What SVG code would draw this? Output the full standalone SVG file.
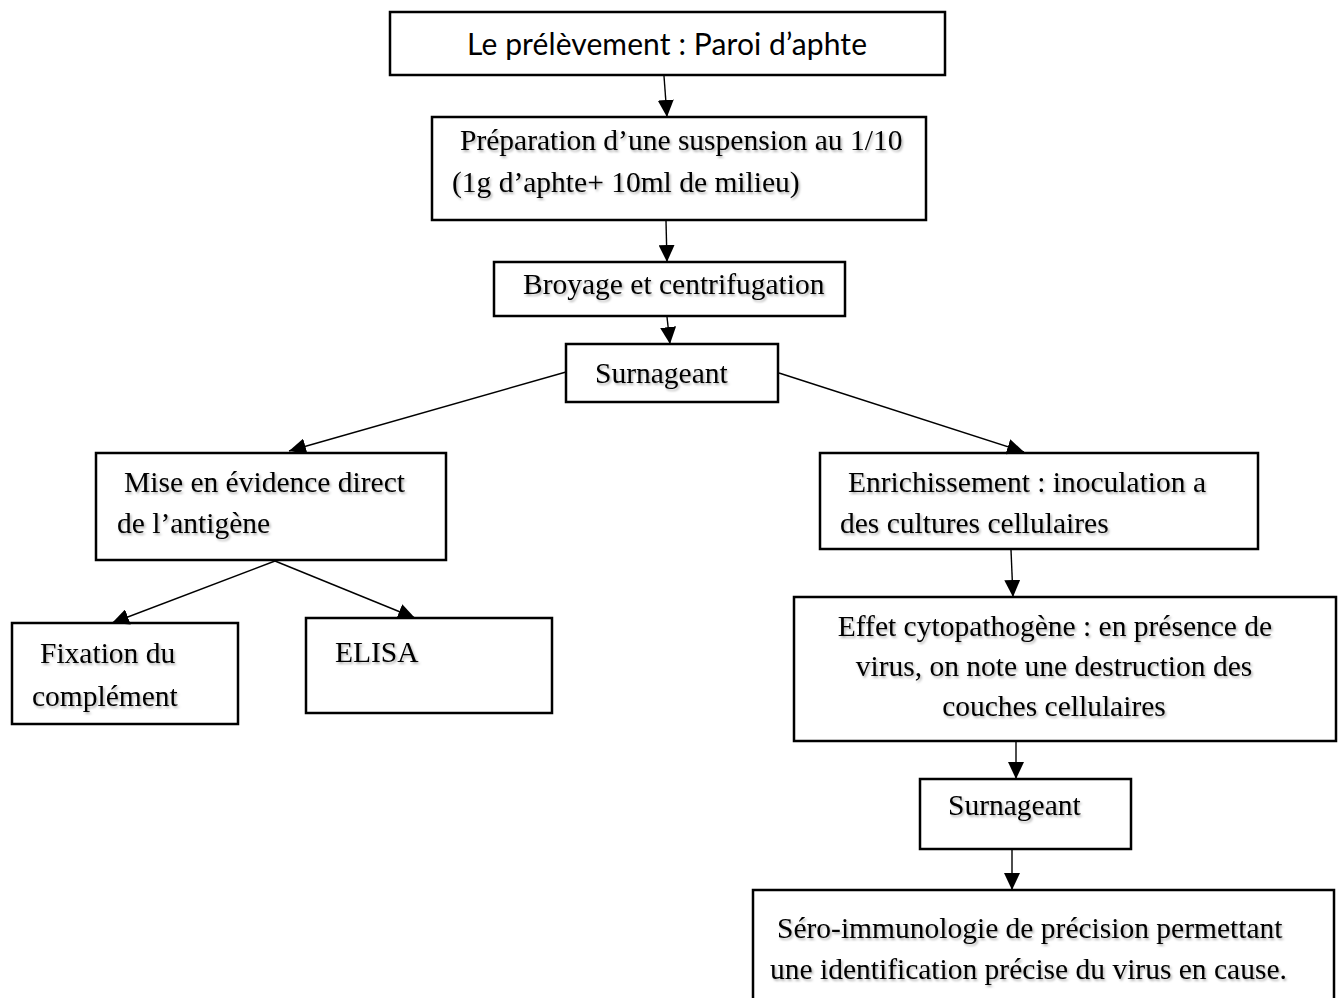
<svg xmlns="http://www.w3.org/2000/svg" width="1339" height="998" viewBox="0 0 1339 998">
<style>
.box{fill:#fff;stroke:#000;stroke-width:2.5}
.t{font-family:"Liberation Serif","Times New Roman",serif;font-size:29.5px;fill:#000;filter:url(#sh)}
.s{font-family:Lato,"Liberation Sans",sans-serif;font-size:30px;fill:#000}
.c{stroke:#000;stroke-width:1.4;fill:none;marker-end:url(#ah)}
</style>
<defs>
<marker id="ah" markerUnits="userSpaceOnUse" markerWidth="18" markerHeight="16" refX="17" refY="8" orient="auto">
<path d="M0,0 L17,8 L0,16 Z" fill="#000"/>
</marker>
<filter id="sh" x="-5%" y="-20%" width="110%" height="150%">
<feDropShadow dx="1.5" dy="2" stdDeviation="1" flood-color="#000" flood-opacity="0.3"/>
</filter>
</defs>
<rect width="1339" height="998" fill="#fff"/>
<g id="n1"><rect class="box" x="390" y="12" width="555" height="63"/><text class="s" x="667" y="55" text-anchor="middle" textLength="400">Le prélèvement : Paroi d’aphte</text></g>
<g id="n2"><rect class="box" x="432" y="117" width="494" height="103"/><text class="t" x="460" y="150">Préparation d’une suspension au 1/10</text><text class="t" x="452" y="192">(1g d’aphte+ 10ml de milieu)</text></g>
<g id="n3"><rect class="box" x="494" y="262" width="351" height="54"/><text class="t" x="523" y="294">Broyage et centrifugation</text></g>
<g id="n4"><rect class="box" x="566" y="344" width="212" height="58"/><text class="t" x="595" y="383">Surnageant</text></g>
<g id="n5"><rect class="box" x="96" y="453" width="350" height="107"/><text class="t" x="124" y="492">Mise en évidence direct</text><text class="t" x="117" y="533">de l’antigène</text></g>
<g id="n6"><rect class="box" x="12" y="623" width="226" height="101"/><text class="t" x="40" y="663">Fixation du</text><text class="t" x="32" y="706">complément</text></g>
<g id="n7"><rect class="box" x="306" y="618" width="246" height="95"/><text class="t" x="335" y="662">ELISA</text></g>
<g id="n8"><rect class="box" x="820" y="453" width="438" height="96"/><text class="t" x="848" y="492">Enrichissement : inoculation a</text><text class="t" x="840" y="533">des cultures cellulaires</text></g>
<g id="n9"><rect class="box" x="794" y="597" width="542" height="144"/><text class="t" x="1055" y="636" text-anchor="middle">Effet cytopathogène : en présence de</text><text class="t" x="1054" y="676" text-anchor="middle">virus, on note une destruction des</text><text class="t" x="1054" y="716" text-anchor="middle">couches cellulaires</text></g>
<g id="n10"><rect class="box" x="920" y="779" width="211" height="70"/><text class="t" x="948" y="815">Surnageant</text></g>
<g id="n11"><rect class="box" x="753" y="890" width="581" height="130"/><text class="t" x="777" y="938">Séro-immunologie de précision permettant</text><text class="t" x="770" y="979">une identification précise du virus en cause.</text></g>
<g id="connectors">
<line class="c" x1="664" y1="76" x2="667" y2="117"/>
<line class="c" x1="666" y1="221" x2="667" y2="262"/>
<line class="c" x1="667" y1="317" x2="670" y2="344"/>
<line class="c" x1="566" y1="372" x2="289" y2="451"/>
<line class="c" x1="779" y1="373" x2="1024" y2="452"/>
<line class="c" x1="275" y1="561" x2="112" y2="623"/>
<line class="c" x1="275" y1="561" x2="415" y2="618"/>
<line class="c" x1="1011" y1="550" x2="1013" y2="597"/>
<line class="c" x1="1016" y1="742" x2="1016" y2="779"/>
<line class="c" x1="1012" y1="850" x2="1012" y2="890"/>
</g>
</svg>
